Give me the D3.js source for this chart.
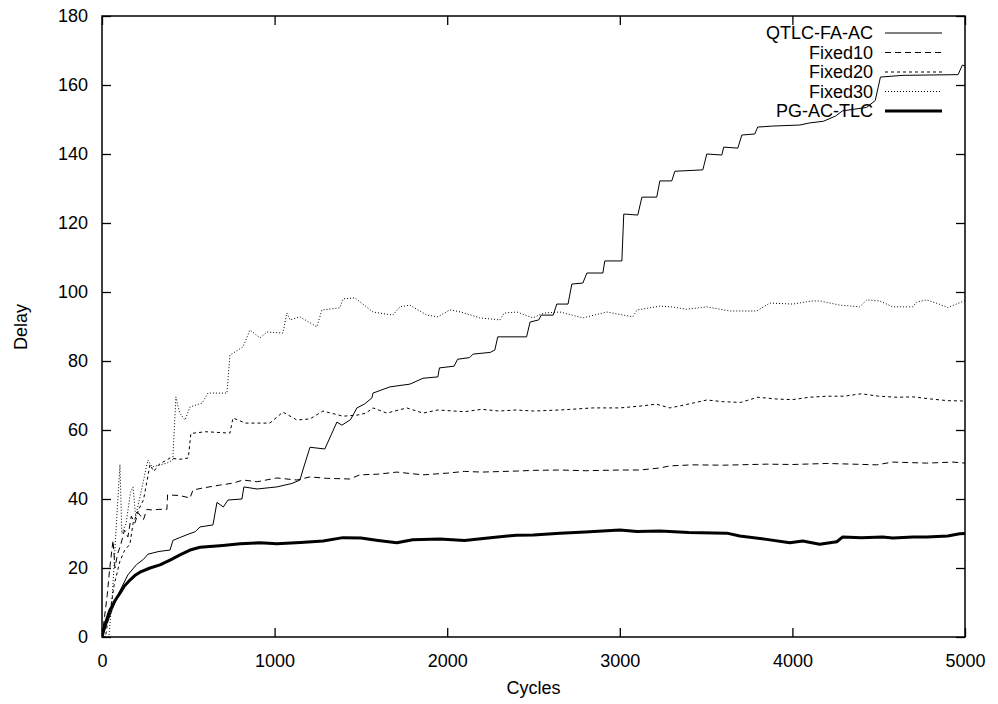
<!DOCTYPE html>
<html>
<head>
<meta charset="utf-8">
<script src="https://cdn.jsdelivr.net/npm/d3@7"></script>
<style>
  html, body { margin: 0; padding: 0; background: #fff; }
  svg { display: block; font-family: "Liberation Sans", Arial, Helvetica, sans-serif; }
</style>
</head>
<body>
<svg id="chart" width="998" height="704"></svg>
<script>
// ---------- DATA ----------
const xTicks = [0, 1000, 2000, 3000, 4000, 5000];
const yTicks = [0, 20, 40, 60, 80, 100, 120, 140, 160, 180];
const xLabel = "Cycles";
const yLabel = "Delay";
const seriesNames = ["QTLC-FA-AC", "Fixed10", "Fixed20", "Fixed30", "PG-AC-TLC"];

const qtlcX = [0,30,60,100,150,200,240,266,330,394,411,460,510,540,568,643,666,703,730,811,822,898,1013,1100,1147,1164,1205,1291,1361,1390,1440,1477,1520,1564,1570,1668,1784,1860,1946,1955,2040,2060,2130,2150,2250,2276,2293,2460,2480,2530,2545,2614,2635,2700,2722,2786,2809,2902,2913,3012,3023,3104,3128,3214,3232,3301,3319,3481,3504,3591,3602,3684,3707,3782,3799,3886,4043,4100,4180,4250,4290,4430,4480,4510,4640,4960,4985,5000];
const qtlcY = [0,4,8,13,18,21,22.5,24,24.8,25.2,28,29,30,30.5,31.9,32.5,39,37.7,39.7,40,43.5,42.9,43.5,44.5,45.5,48.4,55,54.5,62.3,61.4,63,66.4,67.5,69.3,70.7,72.5,73.3,75,75.4,78,78.5,80.5,81,82,82.5,83.2,87,87,91.3,91.9,93.3,93.3,96.5,96.5,102.3,102.6,105.5,105.5,109,109,122.6,122.3,127.5,127.5,132.2,132.2,135,135.4,140,139.7,142,141.7,145.5,145.8,147.8,148.1,148.4,149,149.5,151,152.5,153.5,155.5,162.3,162.8,163,165.8,165.5];

const fixed10X = [0,15,30,45,64,75,90,110,130,150,170,190,210,240,260,290,330,376,380,450,510,527,585,680,759,817,900,1013,1129,1205,1300,1436,1494,1600,1708,1860,2000,2100,2200,2400,2500,2653,2800,3000,3116,3232,3290,3423,3600,3851,4000,4200,4350,4488,4581,4778,4930,5000];
const fixed10Y = [0,6,12,20,28,20,24,27,31,29,35,33,36,34,37,36.8,37,37,41.2,41,40.3,42.6,43.2,44,44.6,45.5,45,46.1,45.5,46.4,46,45.8,47,47.2,47.8,47,47.5,48,47.8,48.1,48.3,48.4,48.2,48.4,48.4,49,49.6,49.9,49.8,50.1,50,50.3,50.1,49.9,50.7,50.4,50.7,50.4];

const fixed20X = [0,20,35,46,70,104,130,162,180,220,240,260,278,300,330,394,450,500,515,600,741,759,830,973,1048,1129,1205,1280,1396,1477,1530,1570,1650,1766,1860,1946,2100,2200,2300,2400,2500,2653,2844,3000,3133,3210,3290,3350,3423,3505,3600,3700,3800,3900,4000,4100,4200,4300,4400,4500,4600,4700,4800,4900,5000];
const fixed20Y = [0,0,5,7,15,22,25,27,33,37.7,39.7,45,50,48,50,51.9,51.5,51.9,59,59.5,59.1,63.5,62,62,65.2,62.9,63.2,65.5,64,64.3,64.9,66.4,64.9,66.4,64.9,65.8,65.3,66,65.5,65.8,65.5,65.8,66.4,66.4,67,67.5,66.4,67,67.8,68.7,68.2,68,69.5,69,68.8,69.5,69.8,69.8,70.5,69.8,69.5,69.6,69,68.5,68.4];

const fixed30X = [0,40,60,80,104,115,140,165,180,195,220,266,290,376,410,428,450,481,510,580,614,724,741,817,857,915,956,1048,1071,1090,1147,1245,1274,1378,1396,1465,1570,1685,1726,1784,1882,1946,2015,2080,2189,2305,2330,2404,2496,2560,2653,2786,2925,3075,3100,3232,3300,3388,3504,3637,3794,3869,4002,4112,4160,4274,4390,4431,4506,4581,4697,4720,4778,4850,4900,4950,5000];
const fixed30Y = [0,0,12,30,50,30,33,42,43.5,35,40.6,51.3,49.3,50.4,51.3,69.6,64.9,62.9,66.7,67.8,70.7,70.7,81.7,84.1,89,86.7,88.4,88.1,93.9,91.9,92.8,89.9,94.8,95.4,98,98.3,94.2,93.3,95.7,96.2,93.3,92.8,94.8,94.2,92.5,91.9,93.9,94.2,92.5,93.9,94.2,92.5,94.2,92.8,94.8,95.9,95.7,95,95.7,94.5,94.5,96.8,96.5,97.4,97.4,96.2,95.7,97.7,97.4,95.7,95.7,97.1,97.7,96.5,95.5,96.5,97.5];

const pgX = [0,20,46,75,104,130,162,190,220,278,336,394,452,510,568,625,700,800,915,1013,1150,1281,1396,1500,1600,1708,1800,1958,2100,2250,2400,2500,2653,2800,3000,3100,3232,3400,3620,3695,3850,3985,4060,4158,4257,4292,4400,4523,4581,4700,4778,4900,4969,5000];
const pgY = [0,4,7.8,10.5,12.7,14.8,16.5,17.8,18.8,20,20.9,22.3,23.8,25.2,26,26.2,26.5,27,27.3,27,27.4,27.8,28.8,28.7,28,27.3,28.2,28.4,28,28.8,29.5,29.6,30.1,30.4,31,30.6,30.7,30.3,30.1,29.3,28.3,27.3,27.8,26.9,27.6,29,28.8,29,28.7,29,29,29.3,29.9,30];

// ---------- STYLES ----------
const styles = [
  { w: 1, dash: null },
  { w: 1, dash: "6,4" },
  { w: 1, dash: "3,3" },
  { w: 1, dash: "1,2" },
  { w: 3, dash: null }
];
const seriesX = [qtlcX, fixed10X, fixed20X, fixed30X, pgX];
const seriesY = [qtlcY, fixed10Y, fixed20Y, fixed30Y, pgY];

// ---------- CHART ----------
const svg = d3.select("#chart");
const L = 102, R = 965, T = 16, B = 637;
const x = d3.scaleLinear().domain([0, 5000]).range([L, R]);
const y = d3.scaleLinear().domain([0, 180]).range([B, T]);
const fs = 18;

// axes (ticks inward, mirrored)
const gB = svg.append("g").attr("transform", `translate(0,${B})`)
  .call(d3.axisBottom(x).tickValues(xTicks).tickFormat(d3.format("d")).tickSize(-9).tickPadding(17));
const gT = svg.append("g").attr("transform", `translate(0,${T})`)
  .call(d3.axisTop(x).tickValues(xTicks).tickFormat("").tickSize(-9));
const gL = svg.append("g").attr("transform", `translate(${L},0)`)
  .call(d3.axisLeft(y).tickValues(yTicks).tickFormat(d3.format("d")).tickSize(-9).tickPadding(14));
const gR = svg.append("g").attr("transform", `translate(${R},0)`)
  .call(d3.axisRight(y).tickValues(yTicks).tickFormat("").tickSize(-9));
[gB, gT, gL, gR].forEach(g => {
  g.select(".domain").remove();
  g.selectAll(".tick line").attr("stroke", "#000").attr("stroke-width", 1.3);
  g.selectAll(".tick text").attr("fill", "#000").style("font-size", fs + "px")
    .style("font-family", "'Liberation Sans', Arial, sans-serif");
});

// frame
svg.append("rect").attr("x", L).attr("y", T).attr("width", R - L).attr("height", B - T)
  .attr("fill", "none").attr("stroke", "#000").attr("stroke-width", 1.5);

// axis titles
svg.append("text").attr("x", (L + R) / 2).attr("y", 694).attr("text-anchor", "middle")
  .style("font-size", fs + "px").attr("fill", "#000").text(xLabel);
svg.append("text").attr("transform", "translate(27,327) rotate(-90)").attr("text-anchor", "middle")
  .style("font-size", fs + "px").attr("fill", "#000").text(yLabel);

// series
const clip = svg.append("clipPath").attr("id", "clip").append("rect")
  .attr("x", L).attr("y", T).attr("width", R - L).attr("height", B - T);
const line = d3.line().x(d => x(d[0])).y(d => y(d[1]));
const plot = svg.append("g").attr("clip-path", "url(#clip)");
seriesNames.forEach((name, i) => {
  const pts = seriesX[i].map((c, k) => [c, seriesY[i][k]]);
  plot.append("path").datum(pts).attr("d", line)
    .attr("fill", "none").attr("stroke", "#000")
    .attr("stroke-width", styles[i].w)
    .attr("stroke-linejoin", "round")
    .attr("stroke-dasharray", styles[i].dash);
});

// legend
const lg = svg.append("g");
seriesNames.forEach((name, i) => {
  const yy = 33 + i * 19.5;
  lg.append("text").attr("x", 873).attr("y", yy).attr("dy", "0.35em").attr("text-anchor", "end")
    .style("font-size", fs + "px").attr("fill", "#000").text(name);
  lg.append("line").attr("x1", 885).attr("x2", 942).attr("y1", yy).attr("y2", yy)
    .attr("stroke", "#000").attr("stroke-width", styles[i].w)
    .attr("stroke-dasharray", styles[i].dash);
});
</script>
</body>
</html>
